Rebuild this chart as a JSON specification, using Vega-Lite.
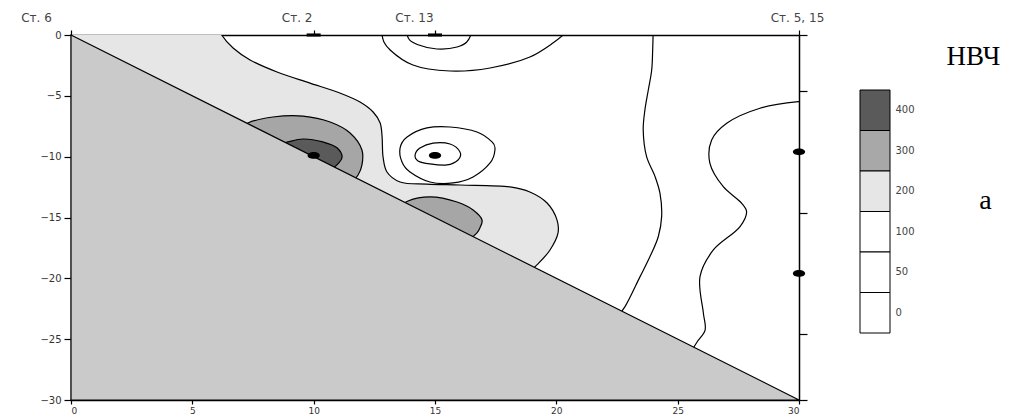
{
 "$schema": "https://vega.github.io/schema/vega-lite/v6.json",
 "background": "white",
 "padding": {"left": 20, "top": 11, "right": 0, "bottom": 0},
 "spacing": 35,
 "config": {
  "view": {"stroke": null},
  "axis": {"zindex": 1, "domainColor": "black", "domainWidth": 1.5, "tickColor": "black", "tickWidth": 1.2, "labelFont": "DejaVu Sans", "labelFontSize": 10, "labelColor": "#333", "grid": false}
 },
 "datasets": {
  "pts": [
   {"s":"lg","i":0,"x":-1,"y":-25},{"s":"lg","i":1,"x":-1,"y":1},{"s":"lg","i":2,"x":6.0,"y":1},{"s":"lg","i":3,"x":6.21,"y":0},
   {"s":"lg","i":4,"x":6.68,"y":-1.07},{"s":"lg","i":5,"x":7.38,"y":-2.05},{"s":"lg","i":6,"x":8.49,"y":-3.04},{"s":"lg","i":7,"x":9.85,"y":-3.95},
   {"s":"lg","i":8,"x":11.08,"y":-4.77},{"s":"lg","i":9,"x":11.91,"y":-5.51},{"s":"lg","i":10,"x":12.45,"y":-6.33},{"s":"lg","i":11,"x":12.74,"y":-7.23},
   {"s":"lg","i":12,"x":12.82,"y":-8.38},{"s":"lg","i":13,"x":12.86,"y":-10.03},{"s":"lg","i":14,"x":13.02,"y":-11.26},{"s":"lg","i":15,"x":13.56,"y":-12.08},
   {"s":"lg","i":16,"x":14.67,"y":-12.25},{"s":"lg","i":17,"x":16.03,"y":-12.33},{"s":"lg","i":18,"x":18.09,"y":-12.49},{"s":"lg","i":19,"x":18.91,"y":-12.9},
   {"s":"lg","i":20,"x":19.62,"y":-13.81},{"s":"lg","i":21,"x":20.03,"y":-15.21},{"s":"lg","i":22,"x":20.07,"y":-16.27},{"s":"lg","i":23,"x":19.74,"y":-17.67},
   {"s":"lg","i":24,"x":19.2,"y":-18.9},{"s":"lg","i":25,"x":18.6,"y":-20.0},
   {"s":"mA","i":0,"x":6.6,"y":-8.2},{"s":"mA","i":1,"x":7.29,"y":-7.23},{"s":"mA","i":2,"x":8.32,"y":-6.74},{"s":"mA","i":3,"x":9.56,"y":-6.66},
   {"s":"mA","i":4,"x":10.68,"y":-7.15},{"s":"mA","i":5,"x":11.5,"y":-8.05},{"s":"mA","i":6,"x":11.99,"y":-9.45},{"s":"mA","i":7,"x":11.99,"y":-10.68},
   {"s":"mA","i":8,"x":11.83,"y":-11.51},{"s":"mA","i":9,"x":11.4,"y":-12.4},
   {"s":"mB","i":0,"x":13.5,"y":-14.2},{"s":"mB","i":1,"x":13.89,"y":-13.64},{"s":"mB","i":2,"x":14.8,"y":-13.3},{"s":"mB","i":3,"x":15.91,"y":-13.73},
   {"s":"mB","i":4,"x":16.57,"y":-14.38},{"s":"mB","i":5,"x":16.94,"y":-15.21},{"s":"mB","i":6,"x":16.85,"y":-15.86},{"s":"mB","i":7,"x":16.73,"y":-16.27},
   {"s":"mB","i":8,"x":16.3,"y":-17.0},
   {"s":"dk","i":0,"x":8.4,"y":-9.1},{"s":"dk","i":1,"x":8.94,"y":-8.79},{"s":"dk","i":2,"x":9.56,"y":-8.55},{"s":"dk","i":3,"x":10.38,"y":-8.79},
   {"s":"dk","i":4,"x":10.96,"y":-9.27},{"s":"dk","i":5,"x":11.17,"y":-10.03},{"s":"dk","i":6,"x":10.96,"y":-10.68},{"s":"dk","i":7,"x":10.5,"y":-11.3},
   {"s":"t1","i":0,"x":13.82,"y":0.2},{"s":"t1","i":1,"x":13.95,"y":-0.4},{"s":"t1","i":2,"x":14.3,"y":-0.8},{"s":"t1","i":3,"x":15.08,"y":-1.15},
   {"s":"t1","i":4,"x":15.91,"y":-0.99},{"s":"t1","i":5,"x":16.3,"y":-0.6},{"s":"t1","i":6,"x":16.52,"y":0.2},
   {"s":"t2","i":0,"x":12.8,"y":0.2},{"s":"t2","i":1,"x":12.9,"y":-0.6},{"s":"t2","i":2,"x":13.15,"y":-1.23},{"s":"t2","i":3,"x":14.09,"y":-2.47},
   {"s":"t2","i":4,"x":15.62,"y":-2.96},{"s":"t2","i":5,"x":17.27,"y":-2.71},{"s":"t2","i":6,"x":18.91,"y":-1.81},{"s":"t2","i":7,"x":19.86,"y":-0.66},
   {"s":"t2","i":8,"x":20.4,"y":0.2},
   {"s":"w1","i":0,"x":23.99,"y":0.3},{"s":"w1","i":1,"x":23.97,"y":-1.23},{"s":"w1","i":2,"x":23.93,"y":-2.88},{"s":"w1","i":3,"x":23.79,"y":-4.52},
   {"s":"w1","i":4,"x":23.65,"y":-6.16},{"s":"w1","i":5,"x":23.58,"y":-7.81},{"s":"w1","i":6,"x":23.72,"y":-10.0},{"s":"w1","i":7,"x":24.07,"y":-11.64},
   {"s":"w1","i":8,"x":24.27,"y":-13.0},{"s":"w1","i":9,"x":24.34,"y":-14.93},{"s":"w1","i":10,"x":24.2,"y":-16.58},{"s":"w1","i":11,"x":23.86,"y":-18.21},
   {"s":"w1","i":12,"x":23.45,"y":-19.86},{"s":"w1","i":13,"x":22.83,"y":-22.33},{"s":"w1","i":14,"x":22.5,"y":-23.2},
   {"s":"w2","i":0,"x":30.3,"y":-5.45},{"s":"w2","i":1,"x":29.97,"y":-5.48},{"s":"w2","i":2,"x":28.39,"y":-6.02},{"s":"w2","i":3,"x":27.02,"y":-7.26},
   {"s":"w2","i":4,"x":26.4,"y":-8.63},{"s":"w2","i":5,"x":26.33,"y":-10.55},{"s":"w2","i":6,"x":26.88,"y":-12.47},{"s":"w2","i":7,"x":27.64,"y":-13.83},
   {"s":"w2","i":8,"x":27.84,"y":-14.52},{"s":"w2","i":9,"x":27.57,"y":-15.75},{"s":"w2","i":10,"x":26.47,"y":-17.67},{"s":"w2","i":11,"x":25.92,"y":-19.86},
   {"s":"w2","i":12,"x":26.06,"y":-22.87},{"s":"w2","i":13,"x":26.13,"y":-24.25},{"s":"w2","i":14,"x":25.8,"y":-25.23},{"s":"w2","i":15,"x":25.5,"y":-26.2},
   {"s":"r1","i":0,"x":14.18,"y":-9.86},{"s":"r1","i":1,"x":14.38,"y":-9.29},{"s":"r1","i":2,"x":14.92,"y":-8.88},{"s":"r1","i":3,"x":15.62,"y":-8.96},
   {"s":"r1","i":4,"x":16.03,"y":-9.62},{"s":"r1","i":5,"x":15.95,"y":-10.27},{"s":"r1","i":6,"x":15.49,"y":-10.68},{"s":"r1","i":7,"x":14.79,"y":-10.6},
   {"s":"r1","i":8,"x":14.3,"y":-10.35},
   {"s":"r2","i":0,"x":13.56,"y":-9.29},{"s":"r2","i":1,"x":13.85,"y":-8.38},{"s":"r2","i":2,"x":14.67,"y":-7.64},{"s":"r2","i":3,"x":15.62,"y":-7.56},
   {"s":"r2","i":4,"x":16.73,"y":-7.97},{"s":"r2","i":5,"x":17.35,"y":-8.79},{"s":"r2","i":6,"x":17.47,"y":-9.45},{"s":"r2","i":7,"x":17.27,"y":-10.52},
   {"s":"r2","i":8,"x":16.57,"y":-11.67},{"s":"r2","i":9,"x":15.74,"y":-12.16},{"s":"r2","i":10,"x":14.79,"y":-12.08},{"s":"r2","i":11,"x":13.97,"y":-11.26},
   {"s":"r2","i":12,"x":13.64,"y":-10.44},
   {"s":"tri","i":0,"x":0,"y":0},{"s":"tri","i":1,"x":30,"y":-30},{"s":"tri","i":2,"x":0,"y":-30}
  ],
  "dots": [{"x":10,"y":-9.9},{"x":15,"y":-9.9},{"x":30,"y":-9.6},{"x":30,"y":-19.6}],
  "dash": [{"x":10,"y":0},{"x":15,"y":0}],
  "bands": [{"b":"400"},{"b":"300"},{"b":"200"},{"b":"100"},{"b":"50"},{"b":"0"}]
 },
 "hconcat": [
  {
   "width": 728, "height": 365,
   "data": {"name": "pts"},
   "resolve": {"axis": {"x": "independent", "y": "independent"}},
   "layer": [
    {
     "transform": [{"filter": "datum.s == 'lg'"}],
     "mark": {"type": "line", "interpolate": "catmull-rom", "fill": "#e6e6e6", "stroke": "black", "strokeWidth": 1.2, "clip": true},
     "encoding": {
      "x": {"field": "x", "type": "quantitative", "scale": {"domain": [0, 30], "nice": false, "zero": false},
            "axis": {"orient": "bottom", "title": null, "values": [0,5,10,15,20,25,30], "tickSize": 4, "labelPadding": 2, "labelFontSize": 9}},
      "y": {"field": "y", "type": "quantitative", "scale": {"domain": [-30, 0], "nice": false, "zero": false},
            "axis": {"orient": "left", "title": null, "values": [0,-5,-10,-15,-20,-25,-30], "tickSize": 7, "labelPadding": 3}},
      "order": {"field": "i", "type": "quantitative"}
     }
    },
    {
     "transform": [{"filter": "datum.s == 'mA' || datum.s == 'mB'"}],
     "mark": {"type": "line", "interpolate": "catmull-rom", "fill": "#a6a6a6", "stroke": "black", "strokeWidth": 1.2, "clip": true},
     "encoding": {
      "x": {"field": "x", "type": "quantitative", "axis": null},
      "y": {"field": "y", "type": "quantitative", "axis": null},
      "detail": {"field": "s"},
      "order": {"field": "i", "type": "quantitative"}
     }
    },
    {
     "transform": [{"filter": "datum.s == 'dk'"}],
     "mark": {"type": "line", "interpolate": "catmull-rom", "fill": "#5a5a5a", "stroke": "black", "strokeWidth": 1.2, "clip": true},
     "encoding": {
      "x": {"field": "x", "type": "quantitative", "axis": null},
      "y": {"field": "y", "type": "quantitative", "axis": null},
      "order": {"field": "i", "type": "quantitative"}
     }
    },
    {
     "transform": [{"filter": "datum.s == 't1' || datum.s == 't2' || datum.s == 'w1' || datum.s == 'w2'"}],
     "mark": {"type": "line", "interpolate": "catmull-rom", "stroke": "black", "strokeWidth": 1.2, "clip": true},
     "encoding": {
      "x": {"field": "x", "type": "quantitative", "axis": null},
      "y": {"field": "y", "type": "quantitative", "axis": null},
      "detail": {"field": "s"},
      "order": {"field": "i", "type": "quantitative"}
     }
    },
    {
     "transform": [{"filter": "datum.s == 'r1' || datum.s == 'r2'"}],
     "mark": {"type": "line", "interpolate": "cardinal-closed", "stroke": "black", "strokeWidth": 1.2, "clip": true},
     "encoding": {
      "x": {"field": "x", "type": "quantitative", "axis": null},
      "y": {"field": "y", "type": "quantitative", "axis": null},
      "detail": {"field": "s"},
      "order": {"field": "i", "type": "quantitative"}
     }
    },
    {
     "transform": [{"filter": "datum.s == 'tri'"}],
     "mark": {"type": "line", "interpolate": "linear-closed", "fill": "#cacaca", "stroke": "black", "strokeWidth": 1.2},
     "encoding": {
      "x": {"field": "x", "type": "quantitative", "axis": null},
      "y": {"field": "y", "type": "quantitative", "axis": null},
      "order": {"field": "i", "type": "quantitative"}
     }
    },
    {
     "data": {"name": "dots"},
     "mark": {"type": "point", "shape": "M-1,0A1,0.55 0 1,1 1,0A1,0.55 0 1,1 -1,0Z", "filled": true, "color": "black", "opacity": 1, "size": 150},
     "encoding": {
      "x": {"field": "x", "type": "quantitative", "axis": null},
      "y": {"field": "y", "type": "quantitative", "axis": null}
     }
    },
    {
     "data": {"name": "dash"},
     "mark": {"type": "point", "shape": "M-1,-0.22H1V0.22H-1Z", "filled": true, "color": "black", "opacity": 1, "size": 196},
     "encoding": {
      "x": {"field": "x", "type": "quantitative",
            "axis": {"orient": "top", "title": null, "values": [0,10,15,30], "tickSize": 5, "labelPadding": 6, "labelFontSize": 12, "labelColor": "#444", "labelFlush": false,
                     "labelExpr": "datum.value == 0 ? 'Ст. 6' : datum.value == 10 ? 'Ст. 2' : datum.value == 15 ? 'Ст. 13' : 'Ст. 5, 15'",
                     "labelOffset": {"condition": [{"test": "datum.value == 0", "value": -35}, {"test": "datum.value == 10", "value": -17}, {"test": "datum.value == 15", "value": -21}], "value": -2}}},
      "y": {"field": "y", "type": "quantitative",
            "axis": {"orient": "right", "title": null, "values": [0,-4.6,-14.6,-24.6,-30], "labels": false, "tickSize": 8}}
     }
    }
   ]
  },
  {
   "width": 30, "height": 365,
   "data": {"name": "bands"},
   "title": {"text": "НВЧ", "anchor": "start", "offset": -31, "dx": 87, "dy": 26, "baseline": "alphabetic", "font": "Liberation Serif", "fontSize": 27, "fontWeight": "normal", "color": "black"},
   "mark": {"type": "rect", "stroke": "black", "strokeWidth": 1},
   "encoding": {
    "y": {"field": "b", "type": "ordinal", "sort": ["400","300","200","100","50","0"],
          "scale": {"paddingInner": 0, "paddingOuter": 0, "range": [55, 298]},
          "axis": {"orient": "right", "bandPosition": 1, "ticks": false, "domain": false, "labelPadding": 5, "labelFontSize": 10, "labelColor": "#444", "labelAngle": 0,
                   "title": "а", "titleAngle": 0, "titleX": 95, "titleY": 165, "titleAlign": "center", "titleBaseline": "middle",
                   "titleFont": "Liberation Serif", "titleFontSize": 28, "titleFontWeight": "normal", "titleColor": "black"}},
    "fill": {"field": "b", "type": "ordinal", "legend": null,
             "scale": {"domain": ["400","300","200","100","50","0"], "range": ["#5a5a5a","#a8a8a8","#e6e6e6","#ffffff","#ffffff","#ffffff"]}}
   }
  }
 ]
}
